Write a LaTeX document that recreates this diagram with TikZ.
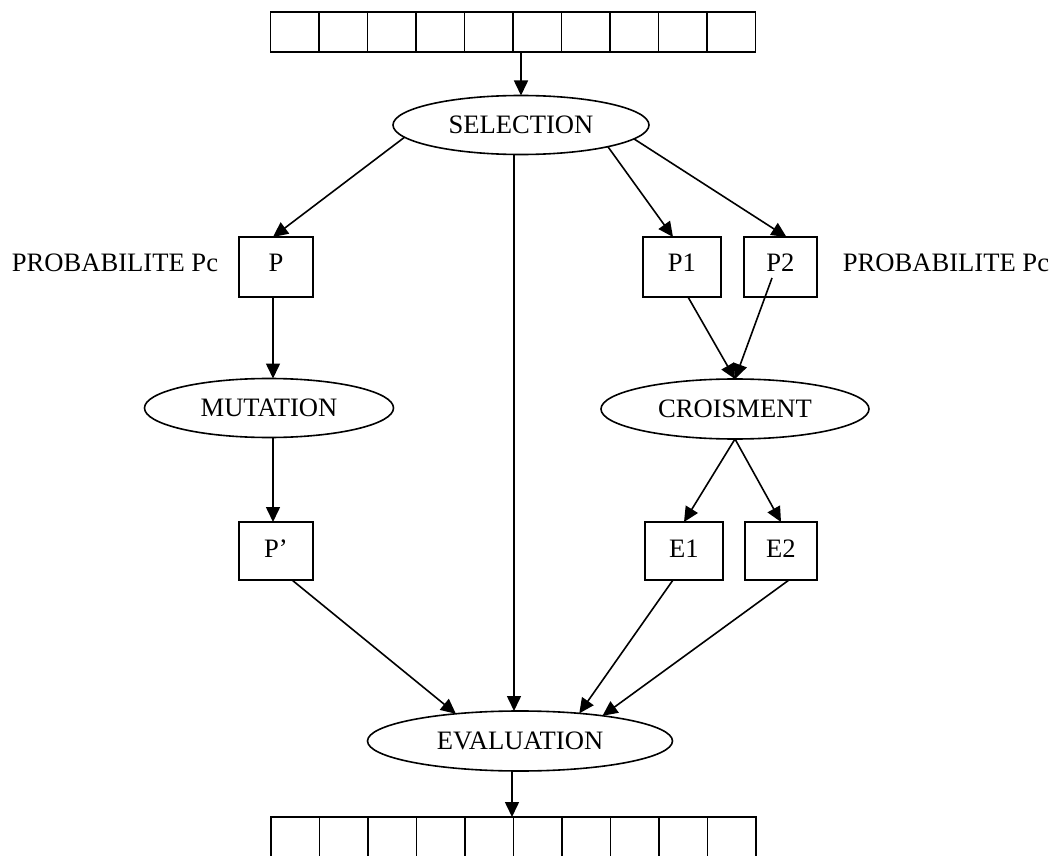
\documentclass[tikz,border=0pt]{standalone}
\usepackage{fontspec}
\setmainfont{Liberation Serif}
\usetikzlibrary{shapes.geometric,arrows.meta}
\begin{document}
\begin{tikzpicture}[
    x=0.5pt,y=-0.5pt,
    font=\fontsize{13.3}{16}\selectfont,
    etape/.style={ellipse, draw, line width=0.8pt, inner sep=0pt, outer sep=0pt},
    indiv/.style={rectangle, draw, line width=0.8pt, inner sep=0pt, outer sep=0pt, minimum height=30pt, text height=9pt, text depth=4.5pt},
    pop/.style={rectangle, draw, line width=0.8pt, inner sep=0pt, outer sep=0pt, minimum width=242.5pt},
    arr/.style={line width=0.8pt, -{Triangle[length=7.5pt,width=7pt]}}
    ]
    \useasboundingbox (0,0) rectangle (1051,856);
    \node [pop, minimum height=20pt] (popA) at (513,32) {};
    \foreach \i in {1,...,9}
        \draw[line width=0.8pt] ([xshift=\i*24.25pt]popA.north west) -- ([xshift=\i*24.25pt]popA.south west);
    \node [pop, minimum height=21pt] (popB) at (513.5,838) {};
    \foreach \i in {1,...,9}
        \draw[line width=0.8pt] ([xshift=\i*24.25pt]popB.north west) -- ([xshift=\i*24.25pt]popB.south west);

    \node [etape, minimum width=128pt, minimum height=29.5pt] (sel) at (521,125) {SELECTION};
    \node [etape, minimum width=124.5pt, minimum height=29.5pt] (mut) at (269,408) {MUTATION};
    \node [etape, minimum width=134pt, minimum height=30pt] (cro) at (735,409) {CROISMENT};
    \node [etape, minimum width=152.5pt, minimum height=30pt] (eval) at (520,741) {EVALUATION};

    \node [indiv, minimum width=37pt] (P) at (276,267) {P};
    \node [indiv, minimum width=39pt] (P1) at (682,267) {P1};
    \node [indiv, minimum width=36.5pt] (P2) at (780.5,267) {P2};
    \node [indiv, minimum width=37pt, minimum height=29pt, text depth=2.7pt] (Pp) at (276,551) {P’};
    \node [indiv, minimum width=39pt, minimum height=29pt, text depth=2.7pt] (E1) at (684,551) {E1};
    \node [indiv, minimum width=36pt, minimum height=29pt, text depth=2.7pt] (E2) at (781,551) {E2};

    \node [anchor=base] (probL) at (115,271) {PROBABILITE Pc};
    \node [anchor=base] (probR) at (946,271) {PROBABILITE Pc};

    \draw[arr] ([xshift=4pt]popA.south) -- (sel.north);
    \draw[arr] (sel.186) -- ([xshift=-1.5pt]P.north);
    \draw[arr] ([xshift=-3.5pt]sel.south) -- ([xshift=-3pt]eval.north);
    \draw[arr] (sel.-14) -- ([xshift=-4.5pt]P1.north);
    \draw[arr] (sel.-7) -- ([xshift=3pt]P2.north);
    \draw[arr] ([xshift=-1.5pt]P.south) -- ([xshift=2pt]mut.north);
    \draw[arr] ([xshift=2pt]mut.south) -- ([xshift=-1.5pt]Pp.north);
    \draw[arr] ([xshift=3pt]P1.south) -- (cro.north);
    \draw[arr] ([xshift=-4.25pt,yshift=-5.5pt]P2.center) -- (cro.north);
    \draw[arr] (cro.south) -- (E1.north);
    \draw[arr] (cro.south) -- (E2.north);
    \draw[arr] ([xshift=8pt]Pp.south) -- (eval.157);
    \draw[arr] ([xshift=-5.5pt]E1.south) -- (eval.25);
    \draw[arr] ([xshift=4pt]E2.south) -- (eval.17);
    \draw[arr] ([xshift=-4pt]eval.south) -- ([xshift=-0.75pt]popB.north);
\end{tikzpicture}
\end{document}
